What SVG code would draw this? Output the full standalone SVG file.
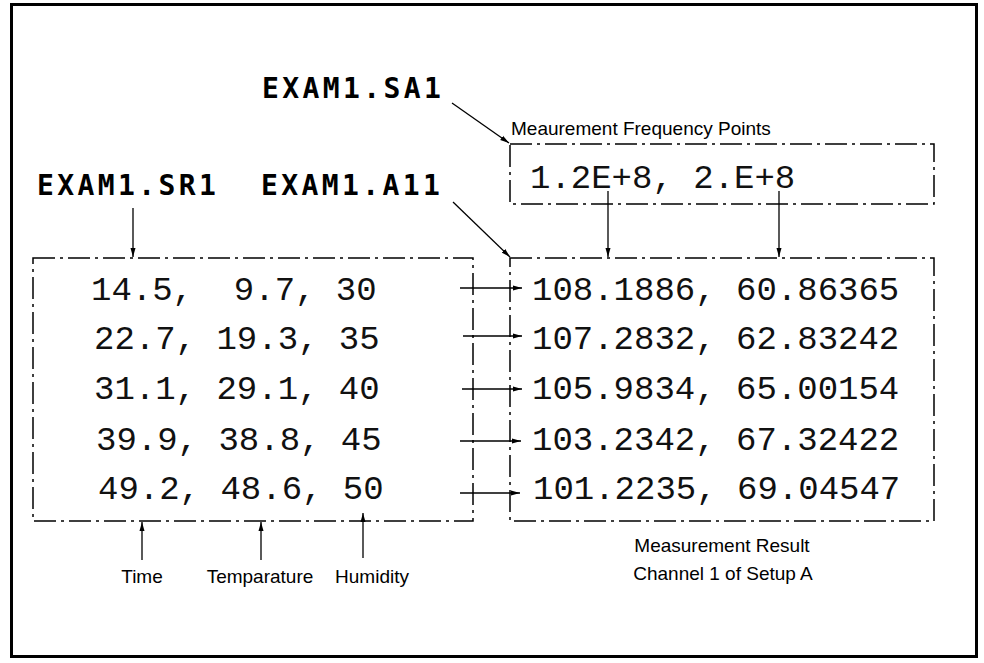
<svg xmlns="http://www.w3.org/2000/svg" width="984" height="663" viewBox="0 0 984 663">
<style>
.frame{fill:none;stroke:#000;stroke-width:3}
.box{fill:none;stroke:#000;stroke-width:1.5;stroke-dasharray:22 5 3 5}
.big{font-family:"DejaVu Sans Mono",monospace;font-weight:bold;font-size:28px;letter-spacing:3.4px;fill:#000}
.num{font-family:"Liberation Mono","Courier New",monospace;font-size:34px;fill:#111}
.small{font-family:"Liberation Sans",Arial,sans-serif;font-size:19px;fill:#000}
.mid{text-anchor:middle}
.conn{fill:none;stroke:#000;stroke-width:1.3;marker-end:url(#ah)}
</style>
<defs>
<marker id="ah" markerUnits="userSpaceOnUse" markerWidth="10" markerHeight="6" refX="9" refY="3" orient="auto">
<path d="M0,0.5 L9,3 L0,5.5 z" fill="#000"/>
</marker>
</defs>
<rect width="984" height="663" fill="#fff"/>
<rect class="frame" x="11.5" y="4.5" width="965" height="652"/>

<g id="label-sa1"><text class="big" x="262" y="98">EXAM1.SA1</text></g>
<g id="label-sr1"><text class="big" x="37" y="195">EXAM1.SR1</text></g>
<g id="label-a11"><text class="big" x="261" y="195">EXAM1.A11</text></g>

<g id="box-sa1">
<text class="small" x="511" y="135">Meaurement Frequency Points</text>
<rect class="box" x="510" y="144" width="424" height="60"/>
<text class="num" x="530" y="188">1.2E+8, 2.E+8</text>
</g>

<g id="box-sr1">
<rect class="box" x="33" y="258" width="440" height="263"/>
<text class="num" x="91" y="300" xml:space="preserve">14.5,  9.7, 30</text>
<text class="num" x="94" y="349">22.7, 19.3, 35</text>
<text class="num" x="94" y="399">31.1, 29.1, 40</text>
<text class="num" x="96" y="450">39.9, 38.8, 45</text>
<text class="num" x="98" y="499">49.2, 48.6, 50</text>
</g>

<g id="box-a11">
<rect class="box" x="510" y="258" width="424" height="263"/>
<text class="num" x="532" y="300">108.1886, 60.86365</text>
<text class="num" x="532" y="349">107.2832, 62.83242</text>
<text class="num" x="532" y="399">105.9834, 65.00154</text>
<text class="num" x="532" y="450">103.2342, 67.32422</text>
<text class="num" x="533" y="499">101.2235, 69.04547</text>
<text class="small mid" x="722" y="552">Measurement Result</text>
<text class="small mid" x="723" y="580">Channel 1 of Setup A</text>
</g>

<g id="label-time"><text class="small mid" x="142" y="583">Time</text></g>
<g id="label-temparature"><text class="small mid" x="260" y="583">Temparature</text></g>
<g id="label-humidity"><text class="small mid" x="372" y="583">Humidity</text></g>

<g id="connectors">
<line class="conn" x1="452" y1="103" x2="509" y2="143"/>
<line class="conn" x1="453" y1="202" x2="510" y2="257"/>
<line class="conn" x1="133" y1="208" x2="133" y2="257"/>
<line class="conn" x1="608" y1="191" x2="608" y2="257"/>
<line class="conn" x1="779" y1="191" x2="779" y2="257"/>
<line class="conn" x1="460" y1="288" x2="522" y2="288"/>
<line class="conn" x1="463" y1="336" x2="522" y2="336"/>
<line class="conn" x1="462" y1="389" x2="522" y2="389"/>
<line class="conn" x1="460" y1="441" x2="521" y2="441"/>
<line class="conn" x1="460" y1="493" x2="520" y2="493"/>
<line class="conn" x1="142" y1="560" x2="142" y2="522"/>
<line class="conn" x1="261" y1="560" x2="261" y2="522"/>
<line class="conn" x1="363" y1="558" x2="363" y2="513"/>
</g>
</svg>
